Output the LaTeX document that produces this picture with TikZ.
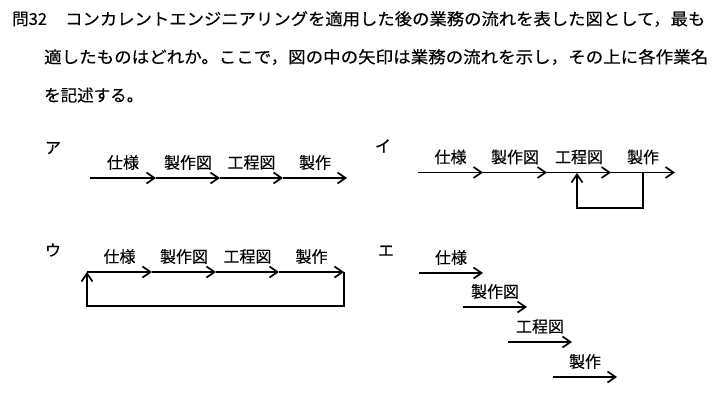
\documentclass[tikz,border=0pt]{standalone}
\usepackage{fontspec}
\usepackage{graphicx}
\usetikzlibrary{arrows.meta}
\newfontfamily\jp[FakeBold=0.3]{Noto Sans CJK JP}
\begin{document}
\begin{tikzpicture}[x=1pt,y=-1pt,
  ttl/.style={inner sep=0pt, font=\jp\fontsize{16.5}{20}\selectfont},
  txt/.style={inner sep=0pt, font=\jp\fontsize{16}{19}\selectfont},
  lbl/.style={txt, midway, yshift=15.5pt},
  flow/.style={line width=1.7pt, -{Straight Barb[length=8pt,width=11pt]}}]
\useasboundingbox[fill=white] (0,0) rectangle (720,399);

% title
\node[ttl, anchor=west] (q) at (12,19) {問32};
\node[ttl, anchor=west] (l1) at (65,19) {\resizebox{640pt}{\height}{コンカレントエンジニアリングを適用した後の業務の流れを表した図として，最も}};
\node[ttl, anchor=west] (l2) at (44,57) {\resizebox{664pt}{\height}{適したものはどれか。ここで，図の中の矢印は業務の流れを示し，その上に各作業名}};
\node[ttl, anchor=west] (l3) at (44,95) {\resizebox{99pt}{\height}{を記述する。}};

% choice labels
\node[txt] (ca) at (53,148) {ア};
\node[txt] (ci) at (383,146) {イ};
\node[txt] (cu) at (53,250) {ウ};
\node[txt] (ce) at (386,251) {エ};

% ア
\coordinate (a0) at (90,178);
\coordinate (a1) at (156,178);
\coordinate (a2) at (220,178);
\coordinate (a3) at (283,178);
\coordinate (a4) at (347,178);
\draw[flow] (a0) -- node[lbl] (as) {仕様} (a1);
\draw[flow] (a1) -- node[lbl] (az) {製作図} (a2);
\draw[flow] (a2) -- node[lbl] (ak) {工程図} (a3);
\draw[flow] (a3) -- node[lbl] (am) {製作} (a4);

% イ
\coordinate (i0) at (418,172.5);
\coordinate (i1) at (483,172.5);
\coordinate (i2) at (547,172.5);
\coordinate (i3) at (611,172.5);
\coordinate (i4) at (675,172.5);
\draw[flow] (i0) -- node[lbl] (is) {仕様} (i1);
\draw[flow] (i1) -- node[lbl] (iz) {製作図} (i2);
\draw[flow] (i2) -- node[lbl] (ik) {工程図} (i3);
\draw[flow] (i3) -- node[lbl] (im) {製作} (i4);
\coordinate (ib) at (643,172.5);
\coordinate (ir) at (643,208);
\coordinate (il) at (577,208);
\coordinate (it) at (577,173);
\draw[flow] (ib) -- (ir) -- (il) -- (it);

% ウ
\coordinate (u0) at (87,272);
\coordinate (u1) at (152,272);
\coordinate (u2) at (216,272);
\coordinate (u3) at (279,272);
\coordinate (u4) at (344,272);
\draw[flow] (u0) -- node[lbl] (us) {仕様} (u1);
\draw[flow] (u1) -- node[lbl] (uz) {製作図} (u2);
\draw[flow] (u2) -- node[lbl] (uk) {工程図} (u3);
\draw[flow] (u3) -- node[lbl] (um) {製作} (u4);
\coordinate (ur) at (344,306);
\coordinate (ul) at (87,306);
\draw[flow] (u4) -- (ur) -- (ul) -- (u0);

% エ
\coordinate (e1s) at (419,273);
\coordinate (e1e) at (483,273);
\coordinate (e2s) at (463,307);
\coordinate (e2e) at (527,307);
\coordinate (e3s) at (508,342);
\coordinate (e3e) at (572,342);
\coordinate (e4s) at (553,377);
\coordinate (e4e) at (617,377);
\draw[flow] (e1s) -- node[lbl] (es) {仕様} (e1e);
\draw[flow] (e2s) -- node[lbl] (ez) {製作図} (e2e);
\draw[flow] (e3s) -- node[lbl] (ek) {工程図} (e3e);
\draw[flow] (e4s) -- node[lbl] (em) {製作} (e4e);
\end{tikzpicture}
\end{document}
